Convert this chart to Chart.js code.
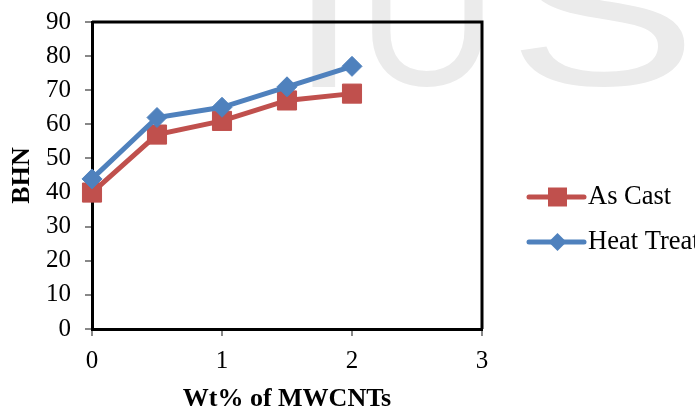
<!DOCTYPE html>
<html>
<head>
<meta charset="utf-8">
<script src="https://cdn.jsdelivr.net/npm/chart.js@4.4.1/dist/chart.umd.min.js"></script>
<style>
  html, body { margin: 0; padding: 0; background: #fff; }
  #wrap { width: 695px; height: 409px; position: relative; }
  canvas { display: block; }
</style>
</head>
<body>
<div id="wrap"><canvas id="c" width="695" height="409"></canvas></div>
<script>
// ---- data ----
const categories = [0, 0.5, 1, 1.5, 2];
const asCast = [40, 57, 61, 67, 69];
const heatTreated = [44, 62, 65, 71, 77];
const seriesNames = ['As Cast', 'Heat Treated'];
const xTickValues = [0, 1, 2, 3];
const yTickValues = [0, 10, 20, 30, 40, 50, 60, 70, 80, 90];
const xTitle = 'Wt% of MWCNTs';
const yTitle = 'BHN';
const watermark = ['I', 'U', 'S'];

const RED = '#C0504D';
const BLUE = '#4F81BD';
const SERIF = '"Liberation Serif", "Times New Roman", serif';

function toPoints(xs, ys) { return xs.map((x, i) => ({ x: x, y: ys[i] })); }

const watermarkPlugin = {
  id: 'watermark',
  beforeDraw(chart) {
    const ctx = chart.ctx;
    ctx.save();
    ctx.fillStyle = '#ebebeb';
    ctx.font = '210px "Liberation Sans", Arial, sans-serif';
    ctx.textBaseline = 'alphabetic';
    ctx.textAlign = 'left';
    const boxes = [[312, 335], [372, 483], [520, 685]];
    watermark.forEach((ch, i) => {
      const m = ctx.measureText(ch);
      const w = m.actualBoundingBoxLeft + m.actualBoundingBoxRight;
      const sx = (boxes[i][1] - boxes[i][0]) / w;
      const baseY = 87 - m.actualBoundingBoxDescent;
      ctx.save();
      ctx.translate(boxes[i][0], baseY);
      ctx.scale(sx, 1);
      ctx.fillText(ch, m.actualBoundingBoxLeft, 0);
      ctx.restore();
    });
    ctx.restore();
  }
};

const framePlugin = {
  id: 'frame',
  beforeDatasetsDraw(chart) {
    const a = chart.chartArea;
    const ctx = chart.ctx;
    ctx.save();
    ctx.strokeStyle = '#000';
    ctx.lineWidth = 3;
    ctx.beginPath();
    ctx.moveTo(a.left, a.top);
    ctx.lineTo(a.right, a.top);
    ctx.lineTo(a.right, a.bottom);
    ctx.stroke();
    ctx.restore();
  }
};

const legendPlugin = {
  id: 'customLegend',
  afterDraw(chart) {
    const ctx = chart.ctx;
    const items = [
      { ds: chart.data.datasets[0], y: 197 },
      { ds: chart.data.datasets[1], y: 242 }
    ];
    ctx.save();
    items.forEach(it => {
      const ds = it.ds;
      ctx.strokeStyle = ds.borderColor;
      ctx.lineWidth = 5;
      ctx.lineCap = 'round';
      ctx.beginPath();
      ctx.moveTo(529, it.y);
      ctx.lineTo(584, it.y);
      ctx.stroke();
      ctx.fillStyle = ds.backgroundColor;
      ctx.beginPath();
      const cx = 557.5;
      if (ds.pointStyle === 'rect') {
        ctx.rect(cx - 9.5, it.y - 9.5, 19, 19);
      } else {
        const r = 9;
        ctx.moveTo(cx - r, it.y);
        ctx.lineTo(cx, it.y - r);
        ctx.lineTo(cx + r, it.y);
        ctx.lineTo(cx, it.y + r);
        ctx.closePath();
      }
      ctx.fill();
      ctx.fillStyle = '#000';
      ctx.font = '26.5px ' + SERIF;
      ctx.textBaseline = 'middle';
      ctx.textAlign = 'left';
      ctx.fillText(ds.label, 588, it.y);
    });
    ctx.restore();
  }
};

new Chart(document.getElementById('c'), {
  type: 'line',
  data: {
    datasets: [
      {
        label: seriesNames[0],
        data: toPoints(categories, asCast),
        borderColor: RED,
        backgroundColor: RED,
        borderWidth: 5,
        pointStyle: 'rect',
        pointRadius: 13.5,
        pointBorderWidth: 1,
        pointBackgroundColor: RED,
        pointBorderColor: RED,
        tension: 0,
        clip: false,
        order: 1
      },
      {
        label: seriesNames[1],
        data: toPoints(categories, heatTreated),
        borderColor: BLUE,
        backgroundColor: BLUE,
        borderWidth: 5,
        pointStyle: 'rectRot',
        pointRadius: 10,
        pointBorderWidth: 1,
        pointBackgroundColor: BLUE,
        pointBorderColor: BLUE,
        tension: 0,
        clip: false,
        order: 0
      }
    ]
  },
  options: {
    responsive: false,
    animation: false,
    devicePixelRatio: 1,
    layout: { padding: { top: 22, right: 213, left: 0, bottom: 0 } },
    plugins: { legend: { display: false }, tooltip: { enabled: false } },
    scales: {
      x: {
        type: 'linear',
        min: 0,
        max: 3,
        afterBuildTicks: s => { s.ticks = xTickValues.map(v => ({ value: v })); },
        afterFit: s => { s.height = 80; s.paddingLeft = 0; s.paddingRight = 0; },
        ticks: { font: { family: SERIF, size: 25 }, color: '#000', padding: 10, maxRotation: 0 },
        grid: { display: true, drawOnChartArea: false, drawTicks: true, tickLength: 7, color: '#888', lineWidth: 2 },
        border: { display: true, color: '#000', width: 3 },
        title: { display: true, text: xTitle, color: '#000', font: { family: SERIF, size: 26, weight: 'bold', lineHeight: 1 }, padding: { top: 0, bottom: -3 } }
      },
      y: {
        type: 'linear',
        min: 0,
        max: 90,
        afterBuildTicks: s => { s.ticks = yTickValues.map(v => ({ value: v })); },
        afterFit: s => { s.width = 92; s.paddingTop = 0; s.paddingBottom = 0; },
        ticks: { font: { family: SERIF, size: 25 }, color: '#000', padding: 14 },
        grid: { display: true, drawOnChartArea: false, drawTicks: true, tickLength: 7, color: '#888', lineWidth: 2 },
        border: { display: true, color: '#000', width: 3 },
        title: { display: true, text: yTitle, color: '#000', font: { family: SERIF, size: 26, weight: 'bold', lineHeight: 1 }, padding: { top: 9, bottom: 0 } }
      }
    }
  },
  plugins: [watermarkPlugin, framePlugin, legendPlugin]
});
</script>
</body>
</html>
